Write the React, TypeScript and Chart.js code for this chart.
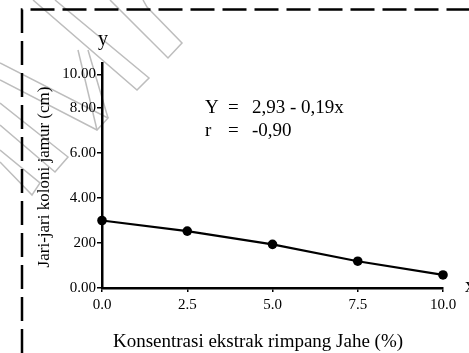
import React, { useEffect, useRef } from "react";
import { Chart, registerables } from "chart.js";

Chart.register(...registerables);

// ---- data ----
const concentrations = [0, 2.5, 5, 7.5, 10];
const colonyRadius = [3.0, 2.53, 1.94, 1.19, 0.58];
const xTickValues = [0, 2.5, 5, 7.5, 10];
const xTickLabels = ["0.0", "2.5", "5.0", "7.5", "10.0"];
const yTickValues = [0, 2, 4, 6, 8, 9.5];
const yTickLabels = ["0.00", "200", "4.00", "6.00", "8.00", "10.00"];
const equationLhs = ["Y", "r"];
const equationRhs = ["2,93 - 0,19x", "-0,90"];
const xTitle = "Konsentrasi ekstrak rimpang Jahe (%)";
const yTitle = "Jari-jari koloni jamur (cm)";

const SERIF = "'Liberation Serif', 'Times New Roman', serif";

// decorative faint watermark strips (scan artefact)
const watermark: number[][][] = [
  [[33, 0], [137, 90], [149, 78], [55, 0]],
  [[110, 0], [168, 58], [182, 43], [147, 7], [143, 0]],
  [[0, 63], [108, 118], [97, 130], [0, 80]],
  [[78, 50], [97, 130]],
  [[88, 50], [108, 118]],
  [[0, 103], [68, 157], [55, 172], [0, 125]],
  [[0, 150], [40, 183], [32, 195], [0, 162]],
];

const decorPlugin = {
  id: "decor",
  beforeDraw(chart: any) {
    const ctx = chart.ctx;
    ctx.save();
    ctx.fillStyle = "#fff";
    ctx.fillRect(0, 0, chart.width, chart.height);
    ctx.strokeStyle = "#bdbdbd";
    ctx.lineWidth = 1.5;
    for (const poly of watermark) {
      ctx.beginPath();
      poly.forEach((p, i) => (i === 0 ? ctx.moveTo(p[0], p[1]) : ctx.lineTo(p[0], p[1])));
      ctx.stroke();
    }
    // dashed frame
    ctx.strokeStyle = "#000";
    ctx.lineWidth = 2.5;
    ctx.setLineDash([24, 8]);
    ctx.beginPath();
    ctx.moveTo(22, chart.height);
    ctx.lineTo(22, 9.5);
    ctx.lineTo(chart.width, 9.5);
    ctx.stroke();
    ctx.restore();
  },
  afterDraw(chart: any) {
    const ctx = chart.ctx;
    const area = chart.chartArea;
    ctx.save();
    ctx.fillStyle = "#000";
    // axis titles
    ctx.font = `19px ${SERIF}`;
    ctx.textAlign = "center";
    ctx.textBaseline = "alphabetic";
    ctx.fillText(xTitle, 258, 347);
    ctx.save();
    ctx.translate(49, 177);
    ctx.rotate(-Math.PI / 2);
    ctx.font = `17px ${SERIF}`;
    ctx.fillText(yTitle, 0, 0);
    ctx.restore();
    // axis letters
    ctx.font = `20px ${SERIF}`;
    ctx.textAlign = "center";
    ctx.fillText("y", area.left + 1, 45);
    ctx.textAlign = "left";
    ctx.fillText("x", area.right + 22, area.bottom + 4);
    // equation
    ctx.font = `19px ${SERIF}`;
    const rows = [113, 136];
    rows.forEach((yy, i) => {
      ctx.textAlign = "left";
      ctx.fillText(equationLhs[i], 205, yy);
      ctx.fillText("=", 228, yy);
      ctx.fillText(equationRhs[i], 252, yy);
    });
    ctx.restore();
  },
};

export default function App() {
  const ref = useRef<HTMLCanvasElement>(null);
  useEffect(() => {
    if (!ref.current) return;
    const tickFont = { family: SERIF, size: 15 };
    const chart = new Chart(ref.current, {
      type: "line",
      data: {
        datasets: [
          {
            data: concentrations.map((x, i) => ({ x, y: colonyRadius[i] })),
            borderColor: "#000",
            borderWidth: 2.2,
            pointRadius: 4.8,
            pointBackgroundColor: "#000",
            pointBorderColor: "#000",
            pointBorderWidth: 0,
            tension: 0,
            clip: false as any,
          },
        ],
      },
      options: {
        responsive: false,
        animation: false,
        layout: { padding: { top: 63, right: 26, left: 0, bottom: 0 } },
        plugins: { legend: { display: false }, tooltip: { enabled: false } },
        scales: {
          x: {
            type: "linear",
            min: 0,
            max: 10,
            afterBuildTicks: (axis: any) => {
              axis.ticks = xTickValues.map((v) => ({ value: v }));
            },
            afterFit: (s: any) => {
              s.height = 65;
            },
            ticks: {
              callback: (v: any) => xTickLabels[xTickValues.indexOf(Number(v))] ?? "",
              font: tickFont,
              color: "#000",
              padding: 4,
              maxRotation: 0,
              autoSkip: false,
            },
            grid: {
              display: true,
              drawOnChartArea: false,
              drawTicks: true,
              tickLength: 4,
              color: "#000",
              lineWidth: 1.5,
            },
            border: { display: true, color: "#000", width: 2.5 },
          },
          y: {
            type: "linear",
            min: 0,
            max: 10,
            afterBuildTicks: (axis: any) => {
              axis.ticks = yTickValues.map((v) => ({ value: v }));
            },
            afterFit: (s: any) => {
              s.width = 102;
            },
            ticks: {
              callback: (v: any) => yTickLabels[yTickValues.indexOf(Number(v))] ?? "",
              font: tickFont,
              color: "#000",
              padding: 1,
              autoSkip: false,
            },
            grid: {
              display: true,
              drawOnChartArea: false,
              drawTicks: true,
              tickLength: 5,
              color: "#000",
              lineWidth: 1.5,
            },
            border: { display: true, color: "#000", width: 2.5 },
          },
        },
      } as any,
      plugins: [decorPlugin],
    });
    return () => chart.destroy();
  }, []);
  return (
    <div style={{ position: "fixed", left: 0, top: 0, width: 469, height: 353, background: "#fff" }}>
      <canvas ref={ref} width={469} height={353} style={{ display: "block" }} />
    </div>
  );
}
